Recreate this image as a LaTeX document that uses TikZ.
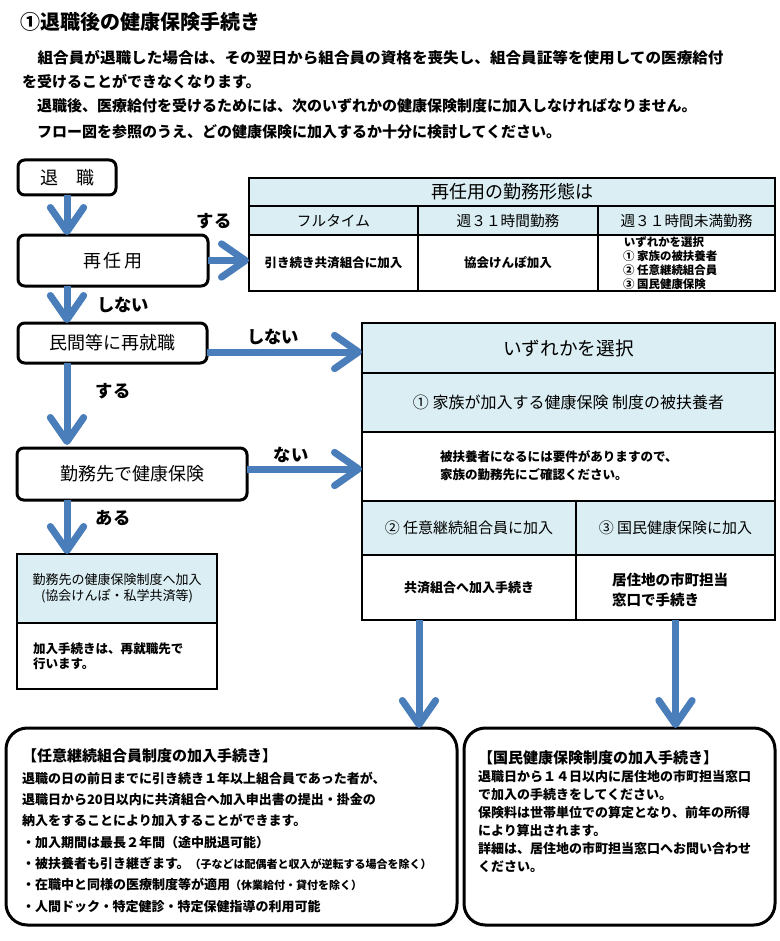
\documentclass[tikz,border=0pt]{standalone}
\usepackage{fontspec}
\setmainfont{Noto Sans CJK JP}
\usetikzlibrary{arrows.meta,calc}
\definecolor{lblue}{HTML}{DAEEF3}
\definecolor{ablue}{HTML}{4A7EBB}
\newcommand{\fsz}[2]{\fontsize{#1}{#2}\selectfont}
\begin{document}
\begin{tikzpicture}[x=0.75pt,y=-0.75pt,
  every node/.style={inner sep=0pt, outer sep=0pt},
  sz/.style 2 args={minimum width={#1*0.75pt}, minimum height={#2*0.75pt}},
  rbox/.style={draw, line width=2.25pt, rounded corners=5pt, fill=white, font=\fsz{13.5pt}{16pt}},
  tcell/.style={draw, line width=1.5pt},
  bcellx/.style={draw, line width=2pt},
  hfill/.style={fill=lblue},
  wfill/.style={fill=white},
  bigbox/.style={draw, line width=2.25pt, rounded corners=16pt},
  harrow/.style={draw=ablue, line width=5.25pt, -{Straight Barb[round,length=18pt,width=25pt]}},
  lab/.style={font=\bfseries\fsz{13pt}{15pt}},
  para/.style={anchor=west, font=\bfseries\fsz{11.25pt}{13pt}},
  smallb/.style={font=\bfseries\fsz{8.6pt}{10pt}}
]
\useasboundingbox[fill=white] (0,0) rectangle (779,941);

% title and intro
\node[anchor=west, font=\bfseries\fsz{15pt}{18pt}] (title) at (20,22) {①退職後の健康保険手続き};
\node[para, xscale=1.04] (p1) at (22,58) {　組合員が退職した場合は、その翌日から組合員の資格を喪失し、組合員証等を使用しての医療給付};
\node[para] (p2) at (22,82) {を受けることができなくなります。};
\node[para] (p3) at (22,106) {　退職後、医療給付を受けるためには、次のいずれかの健康保険制度に加入しなければなりません。};
\node[para] (p4) at (22,132) {　フロー図を参照のうえ、どの健康保険に加入するか十分に検討してください。};

% flow boxes
\node[rbox, sz={98}{35}] (taishoku) at (67,177.5) {退　職};
\node[rbox, sz={190}{51}] (saininyo) at (113,260.5) {再\,任\,用};
\node[rbox, sz={189}{40}] (minkan) at (112.5,343) {民間等に再就職};
\node[rbox, sz={230}{52}] (kinmu) at (132,474) {勤務先で健康保険};

% employer insurance box
\node[tcell, hfill, sz={200}{69}, align=center, font=\fsz{9.75pt}{12pt}] (khead) at (117,588.5) {勤務先の健康保険制度へ加入\\(協会けんぽ・私学共済等)};
\node[tcell, wfill, sz={200}{66}] (kbody) at (117,656) {};
\node[anchor=west, align=left, font=\bfseries\fsz{9.4pt}{11.25pt}] (kbodytext) at (33,656.5) {加入手続きは、再就職先で\\行います。};

% re-employment table
\node[tcell, hfill, sz={526}{28}, font=\fsz{13.5pt}{16pt}] (thead) at (512,192) {再任用の勤務形態は};
\node[tcell, hfill, sz={169}{29}, font=\fsz{11pt}{13pt}] (tsub1) at (333.5,220.5) {フルタイム};
\node[tcell, hfill, sz={180}{29}, font=\fsz{11pt}{13pt}] (tsub2) at (508,220.5) {週３１時間勤務};
\node[tcell, hfill, sz={177}{29}, font=\fsz{11pt}{13pt}] (tsub3) at (686.5,220.5) {週３１時間未満勤務};
\node[tcell, wfill, sz={169}{56}, font=\bfseries\fsz{9.4pt}{11pt}] (tbody1) at (333.5,263) {引き続き共済組合に加入};
\node[tcell, wfill, sz={180}{56}, font=\bfseries\fsz{9.4pt}{11pt}] (tbody2) at (508,263) {協会けんぽ加入};
\node[tcell, wfill, sz={177}{56}] (tbody3) at (686.5,263) {};
\node[smallb] (t3a) at (664,242) {いずれかを選択};
\node[smallb, anchor=west] (t3b) at (623,256) {① 家族の被扶養者};
\node[smallb, anchor=west] (t3c) at (623,270) {② 任意継続組合員};
\node[smallb, anchor=west] (t3d) at (623,284) {③ 国民健康保険};
\draw[line width=1.5pt] (tbody3.south west) -- (tbody3.south east);

% choice box
\node[bcellx, hfill, sz={413}{50}, font=\fsz{14pt}{16pt}] (sentaku) at (568.5,348) {いずれかを選択};
\node[bcellx, hfill, sz={413}{59}, font=\fsz{12pt}{14pt}] (fuyo) at (568.5,402.5) {① 家族が加入する健康保険 制度の被扶養者};
\node[bcellx, wfill, sz={413}{69}] (fuyobody) at (568.5,466.5) {};
\node[anchor=west, align=left, font=\bfseries\fsz{9.4pt}{13.5pt}] (fuyotext) at (440,466) {被扶養者になるには要件がありますので、\\家族の勤務先にご確認ください。};
\node[bcellx, hfill, sz={214}{54}, font=\fsz{11.25pt}{13pt}] (c2head) at (469,528) {② 任意継続組合員に加入};
\node[bcellx, hfill, sz={199}{54}, font=\fsz{11.25pt}{13pt}] (c3head) at (675.5,528) {③ 国民健康保険に加入};
\node[bcellx, wfill, sz={214}{65}, font=\bfseries\fsz{9.75pt}{12pt}] (c2body) at (469,587.5) {共済組合へ加入手続き};
\node[bcellx, wfill, sz={199}{65}] (c3body) at (675.5,587.5) {};
\node[anchor=west, align=left, font=\bfseries\fsz{10.9pt}{15pt}] (c3text) at (612,590) {居住地の市町担当\\窓口で手続き};

% bottom boxes
\node[bigbox, sz={451}{197}] (bl) at (231.5,826.5) {};
\node[bigbox, sz={311}{197}] (br) at (619.5,826.5) {};
\node[anchor=north west, align=left, font=\bfseries\fsz{9.75pt}{16pt}] (bltext) at (22,749) {{\fsz{11.25pt}{16pt}【任意継続組合員制度の加入手続き】}\\
退職の日の前日までに引き続き１年以上組合員であった者が、\\
退職日から20日以内に共済組合へ加入申出書の提出・掛金の\\
納入をすることにより加入することができます。\\
・加入期間は最長２年間（途中脱退可能）\\
・被扶養者も引き継ぎます。{\fsz{8.25pt}{16pt}（子などは配偶者と収入が逆転する場合を除く）}\\
・在職中と同様の医療制度等が適用{\fsz{8.25pt}{16pt}（休業給付・貸付を除く）}\\
・人間ドック・特定健診・特定保健指導の利用可能};
\node[anchor=north west, align=left, font=\bfseries\fsz{9.75pt}{13.5pt}] (brtext) at (478,751) {{\fsz{11.25pt}{13.5pt}【国民健康保険制度の加入手続き】}\\
退職日から１４日以内に居住地の市町担当窓口\\
で加入の手続きをしてください。\\
保険料は世帯単位での算定となり、前年の所得\\
により算出されます。\\
詳細は、居住地の市町担当窓口へお問い合わせ\\
ください。};

% labels
\node[lab] (l1) at (214,221) {する};
\node[lab] (l2) at (123,305) {しない};
\node[lab] (l3) at (273,337) {しない};
\node[lab] (l4) at (113,391) {する};
\node[lab] (l5) at (291,455) {ない};
\node[lab] (l6) at (113,518) {ある};

% arrows
\draw[harrow] (taishoku.south) -- (taishoku.south |- saininyo.north);
\draw[harrow] (saininyo.east) -- (saininyo.east -| tbody1.west);
\draw[harrow] (taishoku.south |- saininyo.south) -- (taishoku.south |- minkan.north);
\coordinate (m1) at ($(minkan.east)+(0,9)$);
\draw[harrow] (m1) -- (m1 -| sentaku.west);
\draw[harrow] (taishoku.south |- minkan.south) -- ($(taishoku.south |- kinmu.north)+(0,-3)$);
\coordinate (k1) at ($(kinmu.east)+(0,-5)$);
\draw[harrow] (k1) -- (k1 -| fuyobody.west);
\draw[harrow] (taishoku.south |- kinmu.south) -- (taishoku.south |- khead.north);
\coordinate (d1) at ($(c2body.south)+(-50,0)$);
\draw[harrow] (d1) -- (d1 |- bl.north);
\draw[harrow] (c3body.south) -- (c3body.south |- br.north);
\end{tikzpicture}
\end{document}
